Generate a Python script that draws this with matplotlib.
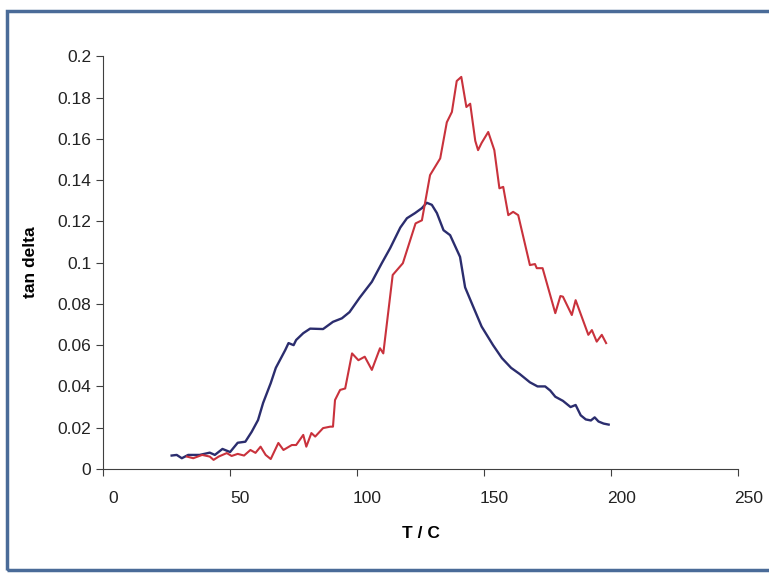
import matplotlib.pyplot as plt
from matplotlib.patches import Rectangle
from matplotlib.transforms import ScaledTranslation

plt.rcParams['font.family'] = ['Liberation Sans', 'DejaVu Sans']

# blue sample
t_blue = [27, 29, 31, 33.5, 38, 42, 44, 47, 50, 53, 56, 58.5, 61, 63, 66, 68, 71.7, 73, 75,
          76, 78.8, 81.5, 86.6, 90.5, 94, 97, 101, 105.8, 109.7, 113, 117, 119.6, 122.8,
          125.5, 127.4, 129.4, 131.4, 134, 136.6, 140.5, 142.5, 145.7, 149, 153.5, 157,
          160.6, 164, 168, 171, 174, 176, 178, 181, 184, 186, 188, 190, 192, 193.5, 195,
          197, 199]
v_blue = [0.0065, 0.0068, 0.0052, 0.0068, 0.0068, 0.0079, 0.0068, 0.0097, 0.0082, 0.0127,
          0.0132, 0.018, 0.0237, 0.032, 0.0416, 0.049, 0.0576, 0.061, 0.060, 0.0625, 0.0658,
          0.068, 0.0678, 0.0713, 0.073, 0.076, 0.083, 0.0907, 0.0997, 0.107, 0.117, 0.1215,
          0.124, 0.1264, 0.129, 0.128, 0.124, 0.1157, 0.1133, 0.1028, 0.088, 0.0786, 0.069,
          0.060, 0.0537, 0.049, 0.046, 0.042, 0.040, 0.040, 0.038, 0.035, 0.033, 0.030, 0.031,
          0.026, 0.024, 0.0235, 0.025, 0.023, 0.022, 0.0215]

# red sample
t_red = [33, 35.5, 39, 42, 43.5, 45.5, 48.7, 50.6, 53, 55.5, 58, 60, 62, 64, 66, 69, 71,
         74.3, 76, 78.8, 80, 82, 83.5, 86.6, 89.4, 90.5, 91.3, 93.3, 95.3, 98, 100.5, 103,
         105.8, 109, 110.3, 114, 118, 123, 125.5, 128.7, 132.7, 135.3, 137.3, 139.2, 141,
         143, 144.5, 146.5, 147.6, 149, 151.6, 154, 156, 157.5, 159.5, 161.4, 163.4, 168,
         170, 170.7, 173, 178, 180, 181, 184.5, 186, 191, 192.4, 194.3, 196.3, 198]
v_red = [0.006, 0.0052, 0.0068, 0.006, 0.0044, 0.006, 0.0077, 0.0063, 0.0073, 0.0065,
         0.0092, 0.0078, 0.0108, 0.0068, 0.0048, 0.0126, 0.0092, 0.0116, 0.0116, 0.0165,
         0.0108, 0.0174, 0.0157, 0.0198, 0.0205, 0.0205, 0.0334, 0.0383, 0.039, 0.056,
         0.0527, 0.0544, 0.048, 0.0585, 0.056, 0.094, 0.0997, 0.119, 0.1205, 0.1424, 0.1505,
         0.168, 0.173, 0.188, 0.190, 0.1754, 0.177, 0.159, 0.1545, 0.158, 0.1633, 0.1545,
         0.136, 0.1367, 0.123, 0.1246, 0.123, 0.0988, 0.0993, 0.0973, 0.0973, 0.0755, 0.0838,
         0.0835, 0.0746, 0.0818, 0.065, 0.0673, 0.0617, 0.065, 0.061]

x_ticks = [0, 50, 100, 150, 200, 250]
y_ticks = [0, 0.02, 0.04, 0.06, 0.08, 0.1, 0.12, 0.14, 0.16, 0.18, 0.2]
y_labels = ['0', '0.02', '0.04', '0.06', '0.08', '0.1', '0.12', '0.14', '0.16', '0.18', '0.2']

fig = plt.figure(figsize=(7.69, 5.74), dpi=100)
ax = fig.add_axes([0.134, 0.183, 0.826, 0.719])

ax.plot(t_blue, v_blue, color='#2b2d6e', lw=1.7)
ax.plot(t_red, v_red, color='#c9323c', lw=1.5)

ax.set_xlim(0, 250)
ax.set_ylim(0, 0.2)
ax.set_xticks(x_ticks)
ax.set_yticks(y_ticks)
ax.set_yticklabels(y_labels)
for s in ['top', 'right']:
    ax.spines[s].set_visible(False)
for s in ['left', 'bottom']:
    ax.spines[s].set_color('#404040')
ax.tick_params(direction='out', length=5, color='#404040', labelsize=12.5, colors='#222222')
ax.tick_params(axis='x', pad=11)
# excel-style: x labels sit a little right of their ticks
shift = ScaledTranslation(10 / 100, 0, fig.dpi_scale_trans)
for lbl in ax.get_xticklabels():
    lbl.set_transform(lbl.get_transform() + shift)
ax.set_xlabel('T / C', fontsize=12.5, fontweight='bold', labelpad=14)
ax.set_ylabel('tan delta', fontsize=12.5, fontweight='bold', labelpad=14)

# slide frame around the chart
fig.patches.append(Rectangle((7 / 769, 4 / 574), 1.0, 559 / 574, transform=fig.transFigure,
                             fill=False, edgecolor='#4a6b98', lw=2.5))

fig.savefig('out.png', dpi=100)
